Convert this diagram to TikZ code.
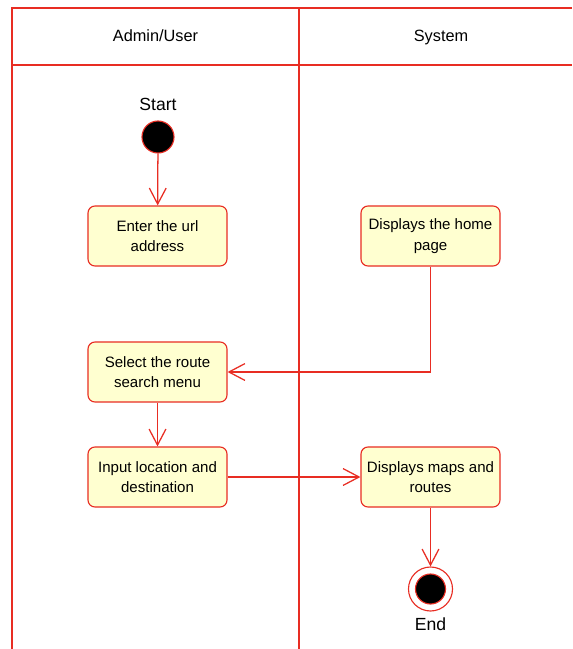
\documentclass[tikz,border=0pt]{standalone}
\usepackage{fontspec}
\setmainfont{Liberation Sans}
\usetikzlibrary{arrows.meta,positioning}

\definecolor{lanered}{RGB}{232,45,35}
\definecolor{actfill}{RGB}{255,255,208}

\tikzset{
  lane/.style={draw=lanered, line width=1pt},
  lanetitle/.style={anchor=base, font=\fontsize{11.6}{14}\selectfont},
  activity/.style={draw=lanered, fill=actfill, line width=0.8pt, rounded corners=5pt,
    minimum width=3.475cm, minimum height=1.5cm, align=center,
    font=\fontsize{10.7}{14.7}\selectfont},
  flow/.style={draw=lanered, line width=0.9pt, -{Straight Barb[length=0.4cm,width=0.42cm,line width=0.9pt]}},
  terminal/.style={anchor=base, font=\fontsize{12.5}{15}\selectfont},
}

\begin{document}
\begin{tikzpicture}[x=0.025cm, y=-0.025cm]
    \useasboundingbox (0,0) rectangle (572,649);

    % Swimlanes
    \draw[lane] (12,649) -- (12,8) -- (572,8);
    \draw[lane] (12,65) -- (572,65);
    \draw[lane] (299,8) -- (299,649);
    \node[lanetitle] (laneuser) at (155.5,41.5) {Admin/User};
    \node[lanetitle] (lanesys) at (441,41.5) {System};

    % Initial node
    \node[circle, fill=black, draw=lanered, line width=0.8pt, minimum size=0.8cm, inner sep=0pt] (start) at (158,137) {};
    \node[terminal] (startlbl) at (158,110.5) {Start};

    % Activities
    \node[activity] (enter) at (157.5,236) {Enter the url\\address};
    \node[activity] (home) at (430.5,236) {Displays the home\\page};
    \node[activity] (select) at (157.5,372) {Select the route\\search menu};
    \node[activity] (input) at (157.5,477) {Input location and\\destination};
    \node[activity] (maps) at (430.5,477) {Displays maps and\\routes};

    % Final node
    \node[circle, fill=white, draw=lanered, line width=0.8pt, minimum size=1.1cm, inner sep=0pt] (end) at (430.5,589) {};
    \node[circle, fill=black, draw=lanered, line width=0.8pt, minimum size=0.75cm, inner sep=0pt] (endin) at (end) {};
    \node[terminal] (endlbl) at (430.5,630) {End};

    % Control flows
    \draw[flow] (start) -- (enter);
    \draw[flow] (home.south) |- (select.east);
    \draw[flow] (select) -- (input);
    \draw[flow] (input) -- (maps);
    \draw[flow] (maps) -- (end);
\end{tikzpicture}
\end{document}
